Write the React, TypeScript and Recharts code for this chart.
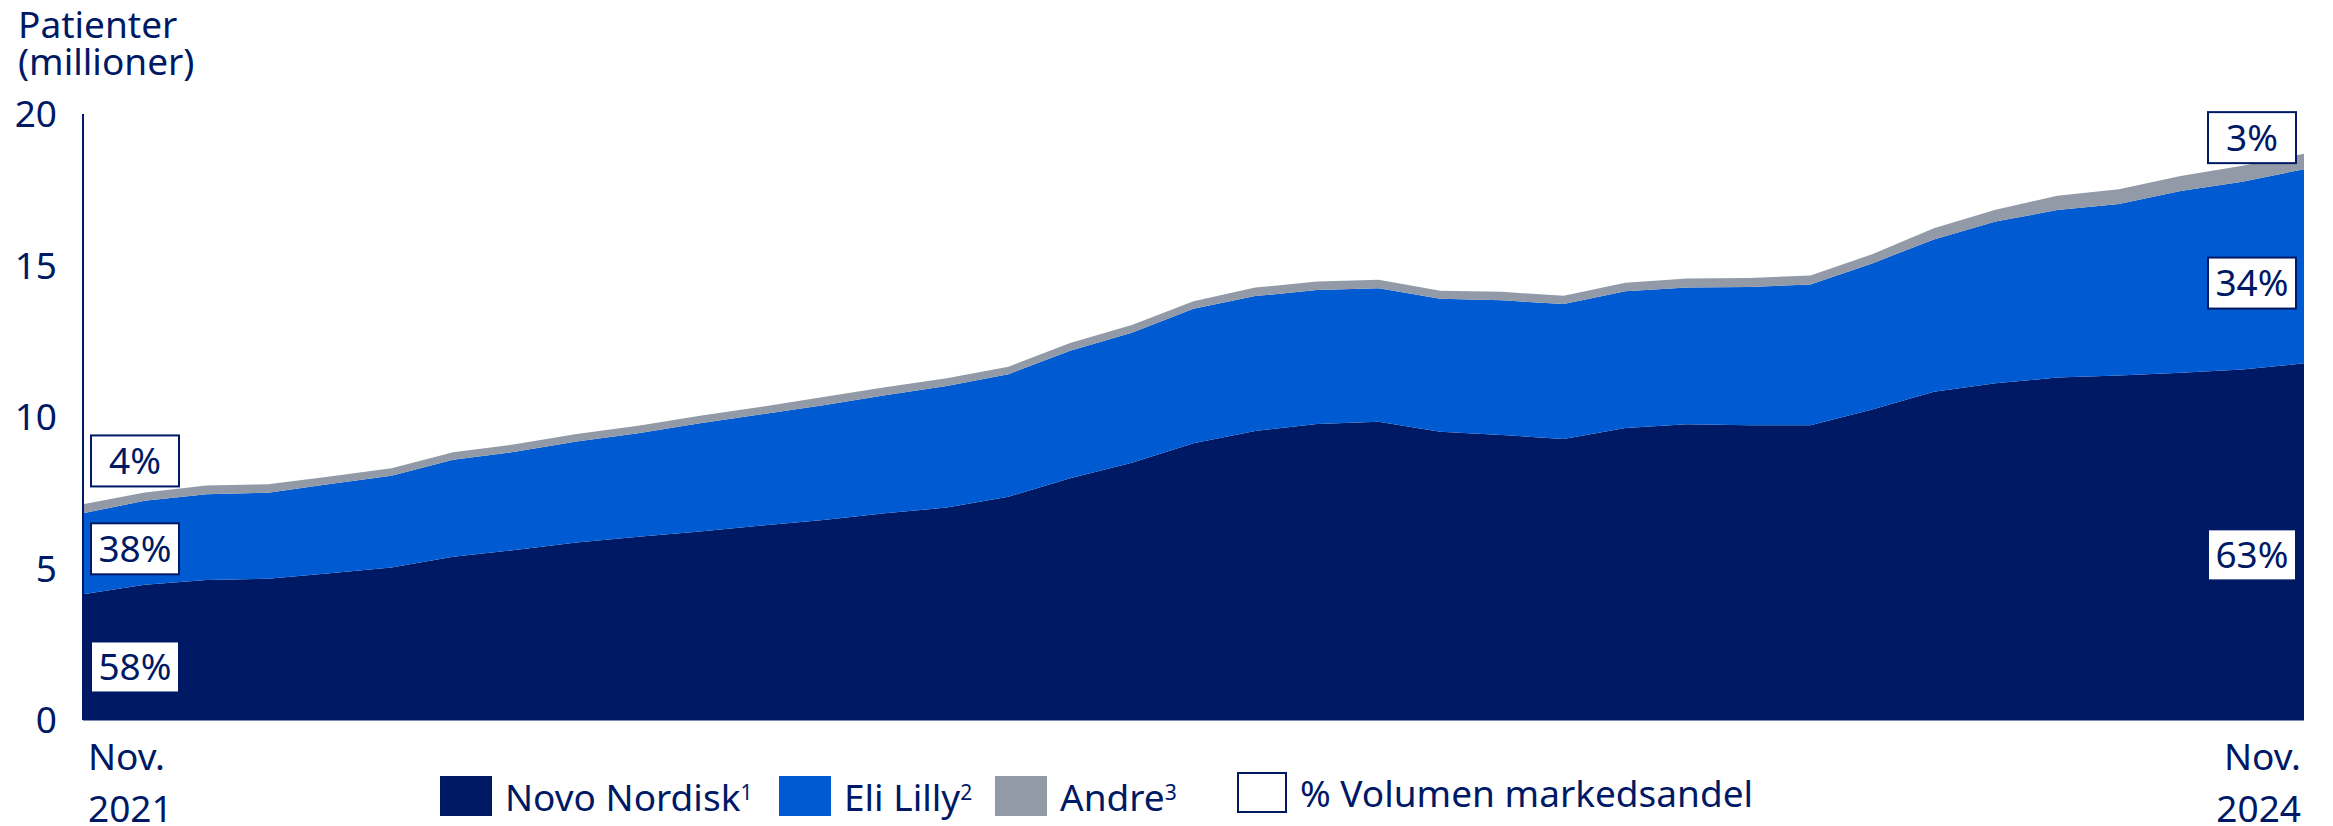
import { AreaChart, Area, XAxis, YAxis, ReferenceDot } from "recharts";

const NAVY = "#001965";
const BLUE = "#005AD2";
const GREY = "#939AA7";
const FONT = "'Noto Sans', 'Open Sans', sans-serif";

const months = [
  "Nov. 2021", "Dec. 2021",
  "Jan. 2022", "Feb. 2022", "Mar. 2022", "Apr. 2022", "Maj 2022", "Jun. 2022",
  "Jul. 2022", "Aug. 2022", "Sep. 2022", "Okt. 2022", "Nov. 2022", "Dec. 2022",
  "Jan. 2023", "Feb. 2023", "Mar. 2023", "Apr. 2023", "Maj 2023", "Jun. 2023",
  "Jul. 2023", "Aug. 2023", "Sep. 2023", "Okt. 2023", "Nov. 2023", "Dec. 2023",
  "Jan. 2024", "Feb. 2024", "Mar. 2024", "Apr. 2024", "Maj 2024", "Jun. 2024",
  "Jul. 2024", "Aug. 2024", "Sep. 2024", "Okt. 2024", "Nov. 2024",
];

// patienter i millioner
const novoNordisk = [
  4.15, 4.46, 4.62, 4.66, 4.84, 5.03, 5.39, 5.61, 5.86, 6.05, 6.22, 6.42, 6.6,
  6.82, 7.01, 7.37, 7.98, 8.49, 9.13, 9.54, 9.77, 9.84, 9.51, 9.41, 9.27, 9.64,
  9.76, 9.73, 9.73, 10.25, 10.83, 11.11, 11.3, 11.37, 11.46, 11.57, 11.77,
];
const eliLilly = [
  2.67, 2.78, 2.83, 2.84, 2.95, 3.03, 3.2, 3.24, 3.33, 3.41, 3.57, 3.67, 3.79,
  3.9, 4.01, 4.04, 4.21, 4.29, 4.44, 4.45, 4.42, 4.41, 4.39, 4.44, 4.46, 4.51,
  4.51, 4.56, 4.64, 4.82, 5.03, 5.34, 5.53, 5.66, 6.0, 6.19, 6.41,
];
const andre = [
  0.3, 0.27, 0.29, 0.28, 0.25, 0.25, 0.25, 0.25, 0.25, 0.25, 0.25, 0.25, 0.27,
  0.26, 0.26, 0.25, 0.25, 0.26, 0.25, 0.28, 0.28, 0.28, 0.27, 0.28, 0.27, 0.28,
  0.3, 0.3, 0.3, 0.3, 0.37, 0.39, 0.47, 0.49, 0.49, 0.53, 0.51,
];

const yTicks = [0, 5, 10, 15, 20];
const firstShares = ["58%", "38%", "4%"];
const lastShares = ["63%", "34%", "3%"];

const data = months.map((month, i) => ({
  month,
  novo: novoNordisk[i],
  lilly: eliLilly[i],
  andre: andre[i],
}));

const ShareBox = ({ cx, cy, text, side }: any) => {
  const w = 88;
  const h = 51;
  const x0 = side === "left" ? cx + 8 : cx - 8 - w;
  return (
    <g>
      <rect x={x0} y={cy - h / 2} width={w} height={h} fill="#fff" stroke={NAVY} strokeWidth={2} />
      <text
        x={x0 + w / 2}
        y={cy}
        dy="0.36em"
        textAnchor="middle"
        fontSize={37}
        fontFamily={FONT}
        fill={NAVY}
      >
        {text}
      </text>
    </g>
  );
};

const MonthTick = ({ x, y, payload }: any) => {
  const [m, yr] = String(payload.value).split(" ");
  const first = payload.value === months[0];
  const tx = first ? x + 5 : x - 3;
  return (
    <text
      x={tx}
      y={y}
      textAnchor={first ? "start" : "end"}
      fontSize={37}
      fontFamily={FONT}
      fill={NAVY}
    >
      <tspan x={tx} dy={50}>{m}</tspan>
      <tspan x={tx} dy={52}>{yr}</tspan>
    </text>
  );
};

// where the share boxes sit, in chart units
const boxPlacement = [
  { month: months[0], y: 1.75, text: firstShares[0], side: "left" },
  { month: months[0], y: 5.65, text: firstShares[1], side: "left" },
  { month: months[0], y: 8.55, text: firstShares[2], side: "left" },
  { month: months[months.length - 1], y: 5.45, text: lastShares[0], side: "right" },
  { month: months[months.length - 1], y: 14.42, text: lastShares[1], side: "right" },
  { month: months[months.length - 1], y: 19.22, text: lastShares[2], side: "right" },
];

const legendItems = [
  { left: 440, color: NAVY, label: "Novo Nordisk", sup: "1" },
  { left: 779, color: BLUE, label: "Eli Lilly", sup: "2" },
  { left: 995, color: GREY, label: "Andre", sup: "3" },
];

export default function App() {
  return (
    <div
      style={{
        position: "absolute",
        left: 0,
        top: 0,
        width: 2333,
        height: 826,
        background: "#fff",
        fontFamily: FONT,
        color: NAVY,
      }}
    >
      <AreaChart
        width={2333}
        height={826}
        data={data}
        margin={{ top: 114, right: 29, bottom: 0, left: 0 }}
      >
        <XAxis
          dataKey="month"
          height={106}
          ticks={[months[0], months[months.length - 1]]}
          interval={0}
          tickLine={false}
          tickSize={0}
          tickMargin={0}
          axisLine={{ stroke: NAVY, strokeWidth: 1 }}
          tick={<MonthTick />}
        />
        <YAxis
          width={83}
          domain={[0, 20]}
          ticks={yTicks}
          tickLine={false}
          tickSize={0}
          tickMargin={26}
          axisLine={{ stroke: NAVY, strokeWidth: 2 }}
          tick={{ fontSize: 37, fill: NAVY, fontFamily: FONT }}
        />
        <Area
          type="linear"
          dataKey="novo"
          stackId="1"
          stroke="none"
          fill={NAVY}
          fillOpacity={1}
          isAnimationActive={false}
          activeDot={false}
        />
        <Area
          type="linear"
          dataKey="lilly"
          stackId="1"
          stroke="none"
          fill={BLUE}
          fillOpacity={1}
          isAnimationActive={false}
          activeDot={false}
        />
        <Area
          type="linear"
          dataKey="andre"
          stackId="1"
          stroke="none"
          fill={GREY}
          fillOpacity={1}
          isAnimationActive={false}
          activeDot={false}
        />
        {boxPlacement.map((b) => (
          <ReferenceDot
            key={b.text}
            x={b.month}
            y={b.y}
            r={0}
            shape={(p: any) => <ShareBox {...p} text={b.text} side={b.side} />}
          />
        ))}
      </AreaChart>

      <div style={{ position: "absolute", left: 18, top: 5, fontSize: 37, lineHeight: "37px" }}>
        Patienter
      </div>
      <div style={{ position: "absolute", left: 18, top: 42, fontSize: 37, lineHeight: "37px" }}>
        (millioner)
      </div>

      {legendItems.map((item) => (
        <div
          key={item.label}
          style={{
            position: "absolute",
            left: item.left,
            top: 776,
            height: 40,
            display: "flex",
            alignItems: "center",
            fontSize: 37,
            whiteSpace: "nowrap",
          }}
        >
          <div style={{ width: 52, height: 40, background: item.color }} />
          <span style={{ marginLeft: 13 }}>
            {item.label}
            <span style={{ fontSize: 21, position: "relative", top: -11 }}>{item.sup}</span>
          </span>
        </div>
      ))}
      <div
        style={{
          position: "absolute",
          left: 1237,
          top: 772,
          height: 41,
          display: "flex",
          alignItems: "center",
          fontSize: 37,
          whiteSpace: "nowrap",
        }}
      >
        <div style={{ width: 50, height: 41, border: `2px solid ${NAVY}`, boxSizing: "border-box" }} />
        <span style={{ marginLeft: 13 }}>% Volumen markedsandel</span>
      </div>
    </div>
  );
}
